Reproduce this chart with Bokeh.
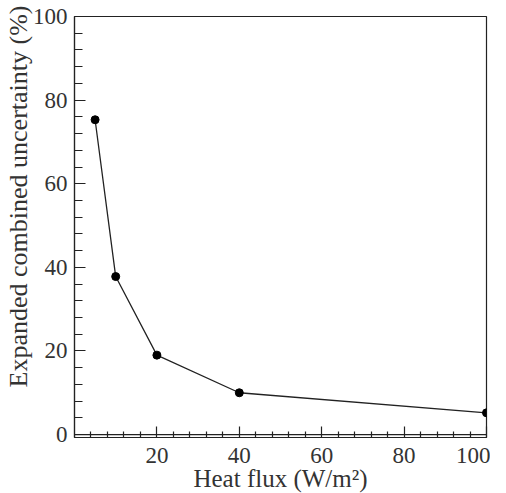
from bokeh.plotting import figure
from bokeh.models import Range1d, FixedTicker, Span, Title
from bokeh.embed import file_html
from bokeh.resources import INLINE

heat_flux = [5, 10, 20, 40, 100]
uncertainty = [75.3, 37.8, 19.0, 10.0, 5.2]
x_major = [20, 40, 60, 80, 100]
x_minor = [4, 8, 12, 16, 24, 28, 32, 36, 44, 48, 52, 56, 64, 68, 72, 76, 84, 88, 92, 96]
y_major = [0, 20, 40, 60, 80, 100]
y_minor = [4, 8, 12, 16, 24, 28, 32, 36, 44, 48, 52, 56, 64, 68, 72, 76, 84, 88, 92, 96]
x_title = "Heat flux (W/m²)"
y_title = "Expanded combined uncertainty (%)"

FONT = "Liberation Serif"
TXT = "#333333"
LC = "#222222"

p = figure(frame_width=412, frame_height=421, output_backend="svg", toolbar_location=None,
           x_range=Range1d(0, 100), y_range=Range1d(-0.7, 100),
           min_border_left=74, min_border_right=4, min_border_top=16, min_border_bottom=40)
p.grid.visible = False
p.outline_line_color = LC
p.outline_line_width = 1.2
p.background_fill_color = "white"
p.border_fill_color = "white"

p.add_layout(Span(location=0, dimension="width", line_color=LC, line_width=1.2))

p.line(heat_flux, uncertainty, line_color=LC, line_width=1.3)
p.scatter(heat_flux, uncertainty, size=8, fill_color="black", line_color="black")

xa = p.xaxis[0]
xa.ticker = FixedTicker(ticks=x_major, minor_ticks=x_minor)
xa.axis_label = x_title
xa.major_tick_in = 11
xa.major_tick_out = 0
xa.minor_tick_in = 6
xa.minor_tick_out = 0
xa.major_label_standoff = 10
xa.axis_label_standoff = -1

ya = p.yaxis[0]
ya.ticker = FixedTicker(ticks=y_major, minor_ticks=y_minor)
ya.major_tick_in = 11
ya.major_tick_out = 0
ya.minor_tick_in = 8
ya.minor_tick_out = 0
ya.major_label_standoff = 7

for ax in (xa, ya):
    ax.axis_line_color = LC
    ax.axis_line_width = 1.2
    ax.major_tick_line_color = LC
    ax.minor_tick_line_color = LC
    ax.major_tick_line_width = 1.2
    ax.minor_tick_line_width = 1.2
    ax.major_label_text_font = FONT
    ax.major_label_text_font_size = "23px"
    ax.major_label_text_color = TXT
    ax.axis_label_text_font = FONT
    ax.axis_label_text_font_size = "25px"
    ax.axis_label_text_font_style = "normal"
    ax.axis_label_text_color = TXT

ylab = Title(text=y_title, align="right", offset=-11, standoff=-6,
             text_font=FONT, text_font_size="26px", text_font_style="normal",
             text_color=TXT)
p.add_layout(ylab, "left")

open("out.html", "w").write(file_html(p, INLINE))
